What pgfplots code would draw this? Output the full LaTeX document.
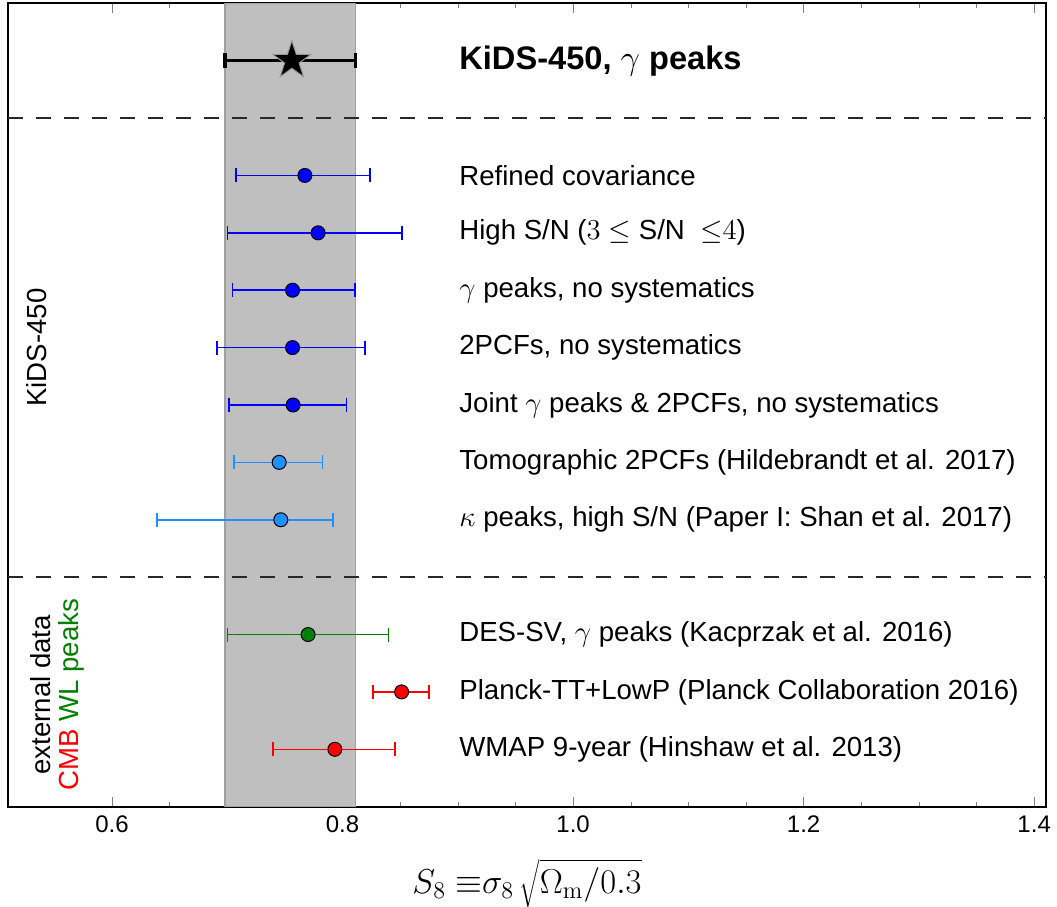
\documentclass[border=0pt]{standalone}
\usepackage{pgfplots}
\pgfplotsset{compat=1.18}
\usepackage{pgfplotstable}
\usepackage[no-math]{fontspec}
\setmainfont{Liberation Sans}
\definecolor{kblue}{RGB}{0,0,255}
\definecolor{lblue}{RGB}{30,144,255}
\definecolor{dgreen}{RGB}{0,128,0}
\definecolor{dred}{RGB}{255,0,0}
\definecolor{dashc}{RGB}{40,40,40}

\pgfdeclareplotmark{fstar}{%
  \filldraw (90:\pgfplotmarksize) -- (126:0.382*\pgfplotmarksize)
   -- (162:\pgfplotmarksize) -- (198:0.382*\pgfplotmarksize)
   -- (234:\pgfplotmarksize) -- (270:0.382*\pgfplotmarksize)
   -- (306:\pgfplotmarksize) -- (342:0.382*\pgfplotmarksize)
   -- (18:\pgfplotmarksize) -- (54:0.382*\pgfplotmarksize) -- cycle;}

\pgfplotstableread{
x y em ep
0.756 13 0.058 0.055
}\stardata
\pgfplotstableread{
x y em ep
0.7673 11 0.0599 0.0564
0.7788 10 0.0786 0.0727
0.7566 9 0.0521 0.0541
0.7566 8 0.0655 0.0628
0.7571 7 0.0558 0.0464
}\kidsdata
\pgfplotstableread{
x y em ep
0.745 6 0.0391 0.0376
0.7464 5 0.1073 0.0454
}\lightdata
\pgfplotstableread{
x y em ep
0.7701 3 0.0699 0.0698
}\desdata
\pgfplotstableread{
x y em ep
0.8512 2 0.0246 0.0237
0.7933 1 0.0535 0.0521
}\cmbdata

\begin{document}
\begin{tikzpicture}[font=\fontsize{13.8pt}{16pt}\selectfont]
\begin{axis}[
  scale only axis, width=518.7pt, height=401.7pt,
  xmin=0.51, xmax=1.41, ymin=0, ymax=14,
  xtick={0.6,0.8,1.0,1.2,1.4}, minor x tick num=3,
  ytick=\empty,
  tick align=inside, xtick pos=both,
  major tick length=5pt, minor tick length=2.5pt,
  xticklabel style={yshift=-1.2pt, /pgf/number format/.cd, fixed, fixed zerofill, precision=1, assume math mode=true},
  tick label style={font=\fontsize{12pt}{14pt}\selectfont},
  axis line style={line width=1pt},
  xlabel={$S_8\ {\equiv}\sigma_8\,\sqrt{\Omega_{\rm m}/0.3}$},
  xlabel style={font=\fontsize{16.5pt}{19pt}\selectfont, anchor=base, at={(axis description cs:0.5,0)}, yshift=-43.2pt},
  clip=false,
]
\addplot[fill=gray!50, draw=gray!75, line width=0.6pt] coordinates {(0.698,0) (0.8113,0) (0.8113,14) (0.698,14)} -- cycle;
\addplot[dashc, line width=1.2pt, dash pattern=on 7.3pt off 6.7pt] coordinates {(0.51,12) (1.41,12)};
\addplot[dashc, line width=1.2pt, dash pattern=on 7.3pt off 6.7pt] coordinates {(0.51,4) (1.41,4)};

\addplot[only marks, mark=fstar, mark size=10pt, mark options={fill=black, draw=white!60!black, line width=0.5pt},
  error bars/.cd, x dir=both, x explicit, error mark=|,
  error bar style={black, line width=1.7pt},
  error mark options={black, line width=1.7pt, mark size=3.75pt}]
  table[x=x, y=y, x error minus=em, x error plus=ep] {\stardata};

\addplot[only marks, mark=*, mark size=3.5pt, mark options={fill=kblue, draw=black, line width=0.5pt},
  error bars/.cd, x dir=both, x explicit, error mark=|,
  error bar style={kblue, line width=0.75pt},
  error mark options={kblue, line width=0.75pt, mark size=3.5pt}]
  table[x=x, y=y, x error minus=em, x error plus=ep] {\kidsdata};
\addplot[only marks, mark=*, mark size=3.5pt, mark options={fill=lblue, draw=black, line width=0.5pt},
  error bars/.cd, x dir=both, x explicit, error mark=|,
  error bar style={lblue, line width=0.75pt},
  error mark options={lblue, line width=0.75pt, mark size=3.5pt}]
  table[x=x, y=y, x error minus=em, x error plus=ep] {\lightdata};
\addplot[only marks, mark=*, mark size=3.5pt, mark options={fill=dgreen, draw=black, line width=0.5pt},
  error bars/.cd, x dir=both, x explicit, error mark=|,
  error bar style={dgreen, line width=0.75pt},
  error mark options={dgreen, line width=0.75pt, mark size=3.5pt}]
  table[x=x, y=y, x error minus=em, x error plus=ep] {\desdata};
\addplot[only marks, mark=*, mark size=3.5pt, mark options={fill=dred, draw=black, line width=0.5pt},
  error bars/.cd, x dir=both, x explicit, error mark=|,
  error bar style={dred, line width=0.75pt},
  error mark options={dred, line width=0.75pt, mark size=3.5pt}]
  table[x=x, y=y, x error minus=em, x error plus=ep] {\cmbdata};

\begin{scope}[every node/.style={anchor=west, inner xsep=0pt}]
\node[font=\fontsize{16.3pt}{19pt}\selectfont\bfseries] at (axis cs:0.901,13) {KiDS-450, $\gamma$ peaks};
\node at (axis cs:0.901,11) {Refined covariance};
\node at (axis cs:0.901,10) {High S/N ($3\leq$ S/N \ ${\leq}4$)};
\node at (axis cs:0.901,9) {$\gamma$ peaks, no systematics};
\node at (axis cs:0.901,8) {2PCFs, no systematics};
\node at (axis cs:0.901,7) {Joint $\gamma$ peaks \& 2PCFs, no systematics};
\node at (axis cs:0.901,6) {Tomographic 2PCFs (Hildebrandt et al. 2017)};
\node at (axis cs:0.901,5) {$\kappa$ peaks, high S/N (Paper I: Shan et al. 2017)};
\node at (axis cs:0.901,3) {DES-SV, $\gamma$ peaks (Kacprzak et al. 2016)};
\node at (axis cs:0.901,2) {Planck-TT+LowP (Planck Collaboration 2016)};
\node at (axis cs:0.901,1) {WMAP 9-year (Hinshaw et al. 2013)};
\end{scope}

\node[rotate=90] at (axis cs:0.5346,8) {KiDS-450};
\node[rotate=90] at (axis cs:0.538,1.95) {external data};
\node[rotate=90] at (axis cs:0.565,1.95) {\textcolor{dred}{CMB} \textcolor{dgreen}{WL peaks}};

\coordinate (BL) at (rel axis cs:0,0);
\coordinate (TR) at (rel axis cs:1,1);
\end{axis}
\pgfresetboundingbox
\path ([xshift=-4.15pt,yshift=-50.15pt]BL) rectangle ([xshift=5.65pt,yshift=1.65pt]TR);
\end{tikzpicture}
\end{document}
